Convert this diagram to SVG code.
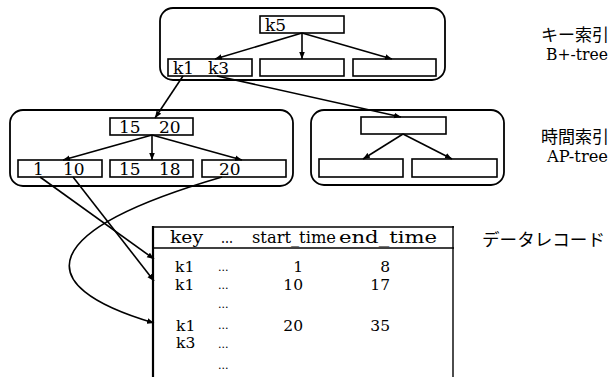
<svg xmlns="http://www.w3.org/2000/svg" width="614" height="377" viewBox="0 0 614 377">
<defs>
<marker id="ah" viewBox="0 0 10 10" refX="10" refY="5" markerWidth="7" markerHeight="7" orient="auto" markerUnits="userSpaceOnUse">
<path d="M0,1 L10,5 L0,9 z" fill="#000"/>
</marker>
<style>
.outer{fill:none;stroke:#000;stroke-width:1.8}
.node{fill:#fff;stroke:#000;stroke-width:1.6}
.t{font-family:'DejaVu Serif',serif;font-size:17px;fill:#000}
.tb{font-family:'DejaVu Serif',serif;font-size:17px;fill:#000}
.tr{font-family:'DejaVu Serif',serif;font-size:15.5px;fill:#000}
.lab{font-family:'DejaVu Serif',serif;font-size:16px;fill:#000}
.jp{font-family:'Noto Sans CJK JP','Noto Sans CJK SC',sans-serif;font-size:17px;fill:#000}
.dots{font-family:'DejaVu Serif',serif;font-size:11px;fill:#000}
.c{fill:none;stroke:#000;stroke-width:1.6}
</style>
</defs>
<rect width="614" height="377" fill="#fff"/>

<g id="bplus-tree">
<rect class="outer" x="160" y="8" width="285" height="72" rx="13"/>
<g id="k5-node"><rect class="node" x="260" y="16" width="84" height="17"/><text class="t" x="265" y="31">k5</text></g>
<g id="k1k3-node"><rect class="node" x="168" y="59" width="84" height="17"/><text class="t" x="173" y="74">k1</text><text class="t" x="208" y="74">k3</text></g>
<g id="bnode2"><rect class="node" x="260" y="59" width="84" height="17"/></g>
<g id="bnode3"><rect class="node" x="353" y="59" width="83" height="17"/></g>
</g>

<g id="ap-tree-left">
<rect class="outer" x="10" y="110" width="283" height="76" rx="13"/>
<g id="n1520"><rect class="node" x="110" y="118" width="83" height="17"/><text class="t" x="119" y="133">15</text><text class="t" x="159" y="133">20</text></g>
<g id="n110"><rect class="node" x="18" y="160" width="84" height="17"/><text class="t" x="33" y="175">1</text><text class="t" x="63" y="175">10</text></g>
<g id="n1518"><rect class="node" x="110" y="160" width="83" height="17"/><text class="t" x="119" y="175">15</text><text class="t" x="159" y="175">18</text></g>
<g id="n20"><rect class="node" x="202" y="160" width="84" height="17"/><text class="t" x="219" y="175">20</text></g>
</g>

<g id="ap-tree-right">
<rect class="outer" x="311" y="110" width="193" height="75" rx="13"/>
<g id="rtop"><rect class="node" x="361" y="117" width="85" height="17"/></g>
<g id="rleft"><rect class="node" x="319" y="159" width="84" height="18"/></g>
<g id="rright"><rect class="node" x="412" y="159" width="85" height="18"/></g>
</g>

<g id="labels">
<text class="jp" x="541" y="41">キー索引</text>
<text class="lab" x="546" y="60" textLength="62" lengthAdjust="spacingAndGlyphs">B+-tree</text>
<text class="jp" x="541" y="143">時間索引</text>
<text class="lab" x="547" y="162" textLength="61" lengthAdjust="spacingAndGlyphs">AP-tree</text>
<text class="jp" x="482" y="246" textLength="123" lengthAdjust="spacingAndGlyphs">データレコード</text>
</g>

<g id="data-record">
<line x1="152" y1="227" x2="454" y2="227" stroke="#000" stroke-width="1.5"/>
<line x1="152" y1="248" x2="454" y2="248" stroke="#000" stroke-width="1.5"/>
<line x1="153" y1="226" x2="153" y2="377" stroke="#000" stroke-width="2.2"/>
<line x1="453" y1="226" x2="453" y2="377" stroke="#000" stroke-width="1.4"/>
<text class="tb" x="170" y="243" textLength="33" lengthAdjust="spacingAndGlyphs">key</text>
<text class="tb" x="221" y="243" textLength="12" lengthAdjust="spacingAndGlyphs">...</text>
<text class="tb" x="252" y="243" textLength="84" lengthAdjust="spacingAndGlyphs">start_time</text>
<text class="tb" x="339" y="243" textLength="98" lengthAdjust="spacingAndGlyphs">end_time</text>
<text class="tr" x="175" y="272">k1</text><text class="dots" x="218" y="271">...</text><text class="tr" x="303" y="272" text-anchor="end">1</text><text class="tr" x="390" y="272" text-anchor="end">8</text>
<text class="tr" x="175" y="290">k1</text><text class="dots" x="218" y="289">...</text><text class="tr" x="303" y="290" text-anchor="end">10</text><text class="tr" x="390" y="290" text-anchor="end">17</text>
<text class="dots" x="218" y="308">...</text>
<text class="tr" x="176" y="331">k1</text><text class="dots" x="218" y="329">...</text><text class="tr" x="303" y="331" text-anchor="end">20</text><text class="tr" x="390" y="331" text-anchor="end">35</text>
<text class="tr" x="176" y="348">k3</text><text class="dots" x="218" y="348">...</text>
<text class="dots" x="218" y="369">...</text>
</g>

<g id="connectors">
<line class="c" x1="302" y1="33" x2="215" y2="59" marker-end="url(#ah)"/>
<line class="c" x1="302" y1="33" x2="302" y2="59" marker-end="url(#ah)"/>
<line class="c" x1="302" y1="33" x2="392" y2="59" marker-end="url(#ah)"/>
<line class="c" x1="183" y1="76" x2="155" y2="118" marker-end="url(#ah)"/>
<line class="c" x1="217" y1="76" x2="401" y2="117" marker-end="url(#ah)"/>
<line class="c" x1="152" y1="135" x2="63" y2="160" marker-end="url(#ah)"/>
<line class="c" x1="152" y1="135" x2="152" y2="160" marker-end="url(#ah)"/>
<line class="c" x1="152" y1="135" x2="242" y2="160" marker-end="url(#ah)"/>
<line class="c" x1="403" y1="134" x2="363" y2="159" marker-end="url(#ah)"/>
<line class="c" x1="403" y1="134" x2="452" y2="159" marker-end="url(#ah)"/>
<line class="c" x1="40" y1="177" x2="154" y2="259" marker-end="url(#ah)"/>
<line class="c" x1="73" y1="177" x2="154" y2="281" marker-end="url(#ah)"/>
<path class="c" d="M222,177 C40,230 25,285 154,323" marker-end="url(#ah)"/>
</g>
</svg>
